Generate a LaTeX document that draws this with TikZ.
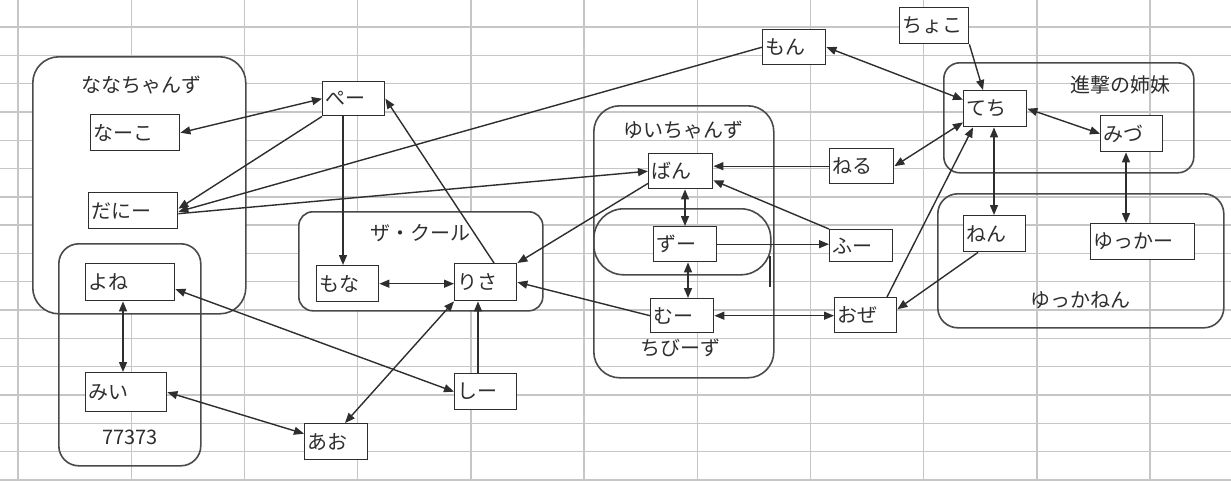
\documentclass[tikz,border=0pt]{standalone}
\usepackage{fontspec}
\newfontfamily\jp{Noto Sans CJK JP}
\usetikzlibrary{arrows.meta,calc}
\definecolor{ink}{HTML}{2E2E2E}
\definecolor{gridc}{HTML}{C6C6C6}
\definecolor{grpc}{HTML}{4A4A4A}
\begin{document}
\begin{tikzpicture}[x=1pt,y=-1pt,
  >={Triangle[length=10pt,width=8pt]},
  gridline/.style={draw=gridc,line width=1.4pt},
  conn/.style={draw=ink,line width=1.4pt},
  one/.style={conn,->},
  two/.style={conn,<->},
  bx/.style={draw=ink,line width=1.4pt,fill=white,anchor=north west,inner xsep=3pt,inner ysep=0pt,align=left,font=\jp\fontsize{20}{20}\selectfont,text=ink},
  grp/.style={draw=grpc,line width=1.6pt,anchor=north west,inner sep=0pt},
  lbl/.style={font=\jp\fontsize{20}{20}\selectfont,text=ink,inner sep=0pt}]
\useasboundingbox (0,0) rectangle (1231,480);
\fill[white] (0,0) rectangle (1231,480);
% spreadsheet grid
\foreach \i in {0,...,10} \draw[gridline] (18+113.2*\i,0) -- (18+113.2*\i,480);
\foreach \j in {0,...,16} \draw[gridline] (0,27+28.3*\j) -- (1231,27+28.3*\j);
% groups
\node[grp,fill=white,rounded corners=26pt,minimum width=213pt,minimum height=257pt] (g1) at (32,56) {};
\node[grp,rounded corners=20pt,minimum width=142pt,minimum height=222pt] (g2) at (58,243) {};
\node[grp,fill=white,rounded corners=14pt,minimum width=244pt,minimum height=99pt] (g3) at (298,211) {};
\node[grp,rounded corners=26pt,minimum width=180pt,minimum height=272pt] (g4) at (593,105) {};
\node[grp,rounded corners=30pt,minimum width=177pt,minimum height=66pt] (g5) at (593,208) {};
\node[grp,rounded corners=16pt,minimum width=250pt,minimum height=110pt] (g6) at (943,62) {};
\node[grp,rounded corners=20pt,minimum width=286pt,minimum height=134pt] (g7) at (937,193) {};
\draw[draw=ink,line width=1.8pt] (770,256) -- (770,287);
% group labels
\node[lbl] (l1) at (141,85) {ななちゃんず};
\node[lbl] (l2) at (130,437) {77373};
\node[lbl] (l3) at (420,233) {ザ・クール};
\node[lbl] (l4) at (683,130) {ゆいちゃんず};
\node[lbl] (l5) at (680,348) {ちびーず};
\node[lbl] (l6) at (1120,85) {進撃の姉妹};
\node[lbl] (l7) at (1080,300) {ゆっかねん};
% boxes
\node[bx,text width=83pt,minimum height=36pt] (nako) at (90,114) {なーこ};
\node[bx,text width=83pt,minimum height=36pt] (dani) at (88,192) {だにー};
\node[bx,text width=83pt,minimum height=37pt] (yone) at (85,263) {よね};
\node[bx,text width=75pt,minimum height=39pt] (mii) at (85,372) {みい};
\node[bx,text width=56pt,minimum height=34pt] (pe) at (322,81) {ぺー};
\node[bx,text width=56pt,minimum height=36pt] (mona) at (316,265) {もな};
\node[bx,text width=56pt,minimum height=37pt] (risa) at (454,263) {りさ};
\node[bx,text width=56pt,minimum height=36pt] (shi) at (454,373) {しー};
\node[bx,text width=57pt,minimum height=36pt] (ao) at (304,423) {あお};
\node[bx,text width=58pt,minimum height=35pt] (ban) at (648,153) {ばん};
\node[bx,text width=57pt,minimum height=35pt] (zu) at (653,226) {ずー};
\node[bx,text width=57pt,minimum height=34pt] (mu) at (650,298) {むー};
\node[bx,text width=58pt,minimum height=35pt] (neru) at (829,148) {ねる};
\node[bx,text width=57pt,minimum height=32pt] (fu) at (829,229) {ふー};
\node[bx,text width=56pt,minimum height=35pt] (oze) at (834,297) {おぜ};
\node[bx,text width=57pt,minimum height=35pt] (mon) at (762,29) {もん};
\node[bx,text width=63pt,minimum height=36pt] (choko) at (899,7) {ちょこ};
\node[bx,text width=57pt,minimum height=36pt] (techi) at (963,90) {てち};
\node[bx,text width=56pt,minimum height=36pt] (mizu) at (1100,115) {みづ};
\node[bx,text width=56pt,minimum height=36pt] (nen) at (963,215) {ねん};
\node[bx,text width=98pt,minimum height=36pt] (yukka) at (1090,223) {ゆっかー};
% connectors
\draw[two] (nako.east) -- (pe.west);
\draw[one] (pe.south west) -- ([yshift=2pt]dani.east);
\draw[one] (mon.west) -- ([yshift=-1pt]dani.east);
\draw[one] ([yshift=-3pt]dani.east) -- (ban.west);
\draw[one] ([xshift=21pt]pe.south west) -- ([xshift=21pt]pe.south west |- mona.north);
\draw[one] ([xshift=40pt]risa.north west) -- (pe.east);
\draw[two] (mona.east) -- (mona.east -| risa.west);
\draw[one] ([yshift=6pt]ban.south west) -- (risa.north east);
\draw[one] (mu.west) -- (risa.east);
\draw[one] ([xshift=24pt]shi.north west) -- ([xshift=24pt]shi.north west |- risa.south);
\draw[two] ([xshift=41pt]ao.north west) -- (risa.south west);
\draw[two] ([yshift=-7pt]yone.east) -- (shi.west);
\draw[two] ([xshift=38pt]yone.south west) -- ([xshift=38pt]yone.south west |- mii.north);
\draw[two] (mii.east) -- ([yshift=8pt]ao.west);
\draw[two] ([xshift=37pt]ban.south west) -- ([xshift=37pt]ban.south west |- zu.north);
\draw[two] ([xshift=35pt]zu.south west) -- ([xshift=35pt]zu.south west |- mu.north);
\draw[one] (zu.east) -- (zu.east -| fu.west);
\draw[one] (fu.north west) -- ([yshift=9pt]ban.south east);
\draw[one] (neru.west) -- (neru.west -| ban.east);
\draw[two] (mu.east) -- (mu.east -| oze.west);
\draw[two] (neru.east) -- ([yshift=5pt]techi.south west);
\draw[two] (mon.east) -- ([yshift=9pt]techi.west);
\draw[one] (choko.south east) -- ([xshift=20pt]techi.north west);
\draw[one] ([xshift=53pt]oze.north west) -- ([xshift=10pt]techi.south west);
\draw[one] ([xshift=15pt]nen.south west) -- ([yshift=6pt]oze.east);
\draw[two] ([xshift=31pt]techi.south west) -- ([xshift=31pt]techi.south west |- nen.north);
\draw[two] (techi.east) -- (mizu.west);
\draw[two] ([xshift=26pt]mizu.south west) -- ([xshift=26pt]mizu.south west |- yukka.north);
\end{tikzpicture}
\end{document}
